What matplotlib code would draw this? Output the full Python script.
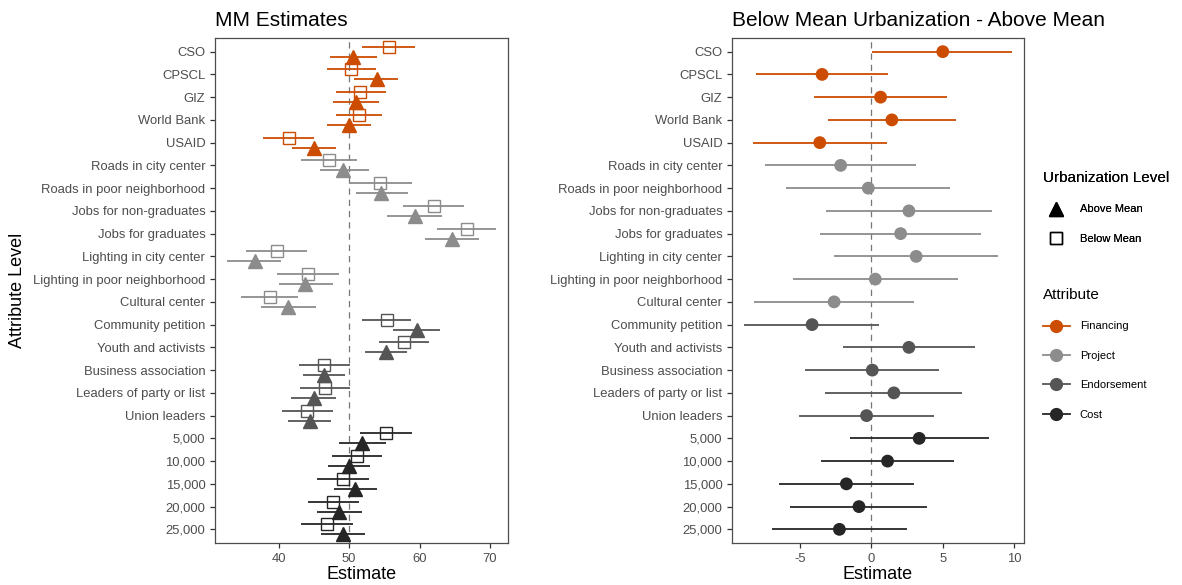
import matplotlib
matplotlib.use("Agg")
import matplotlib.pyplot as plt
from matplotlib.lines import Line2D
import numpy as np

plt.rcParams["font.family"] = ["Liberation Sans", "DejaVu Sans"]
plt.rcParams["axes.unicode_minus"] = False

# attribute levels, top to bottom
levels = ["CSO", "CPSCL", "GIZ", "World Bank", "USAID",
          "Roads in city center", "Roads in poor neighborhood",
          "Jobs for non-graduates", "Jobs for graduates",
          "Lighting in city center", "Lighting in poor neighborhood", "Cultural center",
          "Community petition", "Youth and activists", "Business association",
          "Leaders of party or list", "Union leaders",
          "5,000", "10,000", "15,000", "20,000", "25,000"]
attribute = (["Financing"] * 5 + ["Project"] * 7 + ["Endorsement"] * 5 + ["Cost"] * 5)

# MM estimates, above mean urbanization (triangles)
above_est = [50.55, 53.9, 51.0, 50.0, 45.0, 49.2, 54.6, 59.4, 64.6, 36.6, 43.8, 41.3,
             59.6, 55.2, 46.4, 45.0, 44.4, 51.9, 50.0, 50.8, 48.6, 49.1]
above_lo = [47.3, 50.7, 47.7, 46.9, 41.9, 45.8, 51.0, 55.4, 60.8, 32.7, 40.0, 37.5,
            56.3, 52.2, 43.5, 41.8, 41.3, 48.5, 47.0, 47.8, 45.4, 46.0]
above_hi = [53.9, 57.0, 54.2, 53.1, 48.1, 52.8, 58.3, 63.2, 68.4, 40.3, 47.7, 45.3,
            62.9, 58.2, 49.4, 48.2, 47.4, 55.2, 52.9, 54.0, 51.8, 52.3]

# MM estimates, below mean urbanization (open squares)
below_est = [55.6, 50.3, 51.6, 51.4, 41.4, 47.1, 54.4, 62.0, 66.7, 39.7, 44.1, 38.8,
             55.4, 57.8, 46.5, 46.6, 44.0, 55.3, 51.1, 49.1, 47.7, 46.9]
below_lo = [51.9, 46.9, 48.2, 48.1, 37.8, 43.1, 50.0, 57.6, 62.5, 35.4, 39.8, 34.6,
            51.9, 54.3, 42.9, 43.0, 40.4, 51.6, 47.5, 45.5, 44.1, 43.2]
below_hi = [59.3, 53.8, 55.2, 54.7, 45.0, 51.1, 58.9, 66.3, 70.8, 44.0, 48.5, 42.8,
            58.8, 61.3, 50.1, 50.1, 47.7, 58.9, 54.7, 52.8, 51.4, 50.6]

# difference: below mean - above mean
diff_est = [5.0, -3.44, 0.65, 1.44, -3.6, -2.14, -0.21, 2.63, 2.05, 3.14, 0.28, -2.6,
            -4.14, 2.63, 0.07, 1.58, -0.33, 3.35, 1.14, -1.74, -0.86, -2.23]
diff_lo = [0.07, -8.09, -4.02, -3.02, -8.26, -7.4, -5.97, -3.18, -3.56, -2.6, -5.44, -8.19,
           -8.9, -2.0, -4.63, -3.23, -5.05, -1.51, -3.49, -6.44, -5.65, -6.95]
diff_hi = [9.87, 1.14, 5.33, 5.91, 1.10, 3.14, 5.54, 8.44, 7.70, 8.89, 6.05, 3.0,
           0.56, 7.26, 4.75, 6.35, 4.38, 8.26, 5.77, 2.96, 3.89, 2.49]

attr_names = ["Financing", "Project", "Endorsement", "Cost"]
attr_colors = {"Financing": "#CC4C02", "Project": "#8C8C8C",
               "Endorsement": "#555555", "Cost": "#262626"}

n = len(levels)
ypos = np.arange(n)[::-1]
cols = [attr_colors[a] for a in attribute]
dodge = 0.22

fig = plt.figure(figsize=(11.82, 5.85), dpi=100)
ax1 = fig.add_axes([215 / 1182, 1 - 543 / 585, 293 / 1182, 505 / 585])
ax2 = fig.add_axes([732 / 1182, 1 - 543 / 585, 292 / 1182, 505 / 585])


def style(ax):
    for s in ax.spines.values():
        s.set_color("#4d4d4d")
        s.set_linewidth(0.9)
    ax.tick_params(axis="both", colors="#333333", labelcolor="#4d4d4d",
                   labelsize=9.4, length=3.5, width=0.9)
    ax.set_yticks(ypos)
    ax.set_yticklabels(levels)
    ax.set_ylim(-0.6, n - 1 + 0.6)
    ax.set_xlabel("Estimate", fontsize=13, labelpad=1)


# left panel
ax1.axvline(50, color="#777777", linestyle=(0, (5, 4)), linewidth=0.9, zorder=1)
ax1.hlines(ypos + dodge, below_lo, below_hi, colors=cols, linewidth=1.3, zorder=2)
ax1.hlines(ypos - dodge, above_lo, above_hi, colors=cols, linewidth=1.3, zorder=2)
for y, c, b, a in zip(ypos, cols, below_est, above_est):
    ax1.plot(b, y + dodge, marker="s", markersize=9, markerfacecolor="none",
             markeredgecolor=c, markeredgewidth=1.0, linestyle="none", zorder=3)
    ax1.plot(a, y - dodge, marker="^", markersize=10, color=c, linestyle="none", zorder=3)
ax1.set_xlim(30.95, 72.57)
ax1.set_xticks([40, 50, 60, 70])
style(ax1)
ax1.set_title("MM Estimates", loc="left", fontsize=15, pad=9)
fig.text(18 / 1182, 0.5 * (1 - 543 / 585 + 1 - 38 / 585), "Attribute Level",
         rotation=90, ha="center", va="center", fontsize=13)

# right panel
ax2.axvline(0, color="#777777", linestyle=(0, (5, 4)), linewidth=0.9, zorder=1)
ax2.hlines(ypos, diff_lo, diff_hi, colors=cols, linewidth=1.3, zorder=2)
ax2.scatter(diff_est, ypos, s=85, c=cols, zorder=3, linewidths=0)
ax2.set_xlim(-9.74, 10.68)
ax2.set_xticks([-5, 0, 5, 10])
style(ax2)
ax2.set_title("Below Mean Urbanization - Above Mean", loc="left", fontsize=15, pad=9)

# legends
shape_handles = [
    Line2D([], [], marker="^", color="black", linestyle="none", markersize=10),
    Line2D([], [], marker="s", markerfacecolor="none", markeredgecolor="black",
           markeredgewidth=1.0, linestyle="none", markersize=9),
]
leg_kw = dict(loc="upper left", frameon=False, fontsize=8, title_fontsize=11,
              alignment="left", labelspacing=1.75, handlelength=2.4,
              handletextpad=0.9, borderaxespad=0, borderpad=0)
leg1 = fig.legend(shape_handles, ["Above Mean", "Below Mean"], title="Urbanization Level",
                  bbox_to_anchor=(1043 / 1182, 1 - 171 / 585), **leg_kw)
attr_handles = [Line2D([], [], color=attr_colors[a], marker="o", markersize=8.5,
                       linewidth=1.3) for a in attr_names]
leg2 = fig.legend(attr_handles, attr_names, title="Attribute",
                  bbox_to_anchor=(1043 / 1182, 1 - 288 / 585), **leg_kw)
fig.add_artist(leg1)

fig.savefig("out.png", dpi=100)
